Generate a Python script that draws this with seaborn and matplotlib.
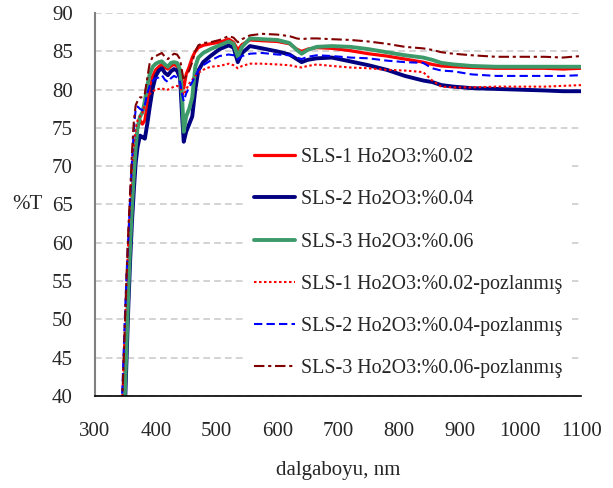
import pandas as pd
import matplotlib
matplotlib.use("Agg")
import matplotlib.pyplot as plt
import seaborn as sns

# wavelength grid (nm), shared by all six spectra
wavelength = [343, 346, 349, 352, 355, 358, 361, 364, 367, 370, 374, 378, 382, 386, 390, 395, 400,
              405, 410, 415, 420, 425, 430, 435, 440, 443, 446, 450, 455, 460, 465, 470, 478, 490,
              505, 520, 528, 535, 542, 555, 575, 600, 620, 632, 640, 650, 665, 690, 720, 750, 780,
              810, 840, 855, 870, 890, 920, 960, 1000, 1040, 1070, 1100]

sls1 = [30, 36, 42, 49, 55, 61, 66, 70, 73, 75, 76, 75.5, 76, 78, 80, 81.8, 82.6,
        83.0, 83.3, 82.9, 82.7, 83.1, 83.3, 83.1, 82.3, 81.0, 80.2, 82.0, 83.0, 84.2, 85.0, 85.5, 85.8, 86.0,
        86.2, 86.6, 86.2, 85.2, 85.9, 86.5, 86.4, 86.3, 86.0, 85.3, 85.0, 85.3, 85.5, 85.4, 85.1, 84.7, 84.4,
        84.0, 83.6, 83.3, 83.1, 83.0, 82.9, 82.8, 82.8, 82.8, 82.7, 82.8]
sls2 = [26, 32, 38, 45, 52, 58, 63, 67, 70.5, 72.5, 74, 73.8, 73.6, 75.5, 77.7, 80.2, 81.8,
        82.5, 82.8, 82.2, 81.9, 82.4, 82.7, 82.5, 81.5, 77.0, 73.2, 74.5, 75.5, 76.5, 80.0, 82.5, 83.6, 84.4,
        85.3, 85.8, 85.5, 83.6, 84.8, 85.7, 85.4, 85.0, 84.6, 84.0, 83.6, 83.9, 84.1, 84.2, 83.7, 83.2, 82.6,
        81.8, 81.2, 81.0, 80.6, 80.4, 80.2, 80.1, 80.0, 79.9, 79.8, 79.8]
sls3 = [28, 34, 40, 47, 54, 60, 65, 69, 72.5, 75, 76.5, 77, 78.5, 80.5, 82, 83, 83.4,
        83.6, 83.7, 83.3, 83.0, 83.5, 83.6, 83.5, 82.6, 79.5, 74.5, 76.5, 77.5, 79.0, 83.0, 84.2, 84.8, 85.3,
        85.8, 86.3, 86.0, 84.3, 85.6, 86.7, 86.6, 86.5, 86.1, 85.2, 84.7, 85.2, 85.6, 85.7, 85.6, 85.3, 84.9,
        84.5, 84.2, 83.9, 83.5, 83.3, 83.1, 83.0, 83.0, 83.0, 83.0, 83.0]
sls1_exp = [36, 42, 49, 55, 61, 66, 70, 73, 75, 76, 76.5, 77, 78, 78.8, 79.4, 79.8, 80.0,
            80.1, 80.2, 80.0, 80.0, 80.2, 80.4, 80.5, 80.3, 79.8, 79.3, 80.0, 80.8, 81.3, 81.8, 82.2, 82.6, 83.0,
            83.1, 83.4, 83.2, 82.8, 83.1, 83.4, 83.4, 83.3, 83.2, 83.0, 82.9, 83.1, 83.3, 83.1, 82.9, 82.8, 82.6,
            82.5, 82.3, 81.2, 80.4, 80.3, 80.3, 80.4, 80.4, 80.4, 80.5, 80.6]
sls2_exp = [37, 43, 50, 56, 61, 66, 71, 75, 77.5, 77.8, 77.5, 77.3, 78, 79.5, 80.5, 81.2, 81.5,
            81.6, 81.9, 81.3, 81.0, 81.5, 81.8, 81.6, 81.0, 79.5, 78.5, 79.5, 80.3, 81.0, 81.8, 82.5, 83.2, 83.8,
            84.4, 84.6, 84.5, 84.0, 84.4, 84.7, 84.8, 84.6, 84.5, 84.2, 84.0, 84.3, 84.5, 84.4, 84.2, 84.1, 83.8,
            83.6, 83.5, 82.8, 82.5, 82.4, 82.0, 81.8, 81.8, 81.8, 81.8, 81.9]
sls3_exp = [36, 42, 49, 56, 62, 67, 72, 76, 78, 78.5, 79, 79, 79.5, 81.5, 83.5, 84.3, 84.4,
            84.6, 84.8, 84.3, 84.0, 84.4, 84.7, 84.6, 84.0, 82.5, 81.2, 81.8, 82.5, 83.6, 85.0, 85.8, 86.1, 86.2,
            86.5, 87.0, 86.8, 86.2, 86.6, 87.1, 87.3, 87.2, 87.0, 86.7, 86.6, 86.7, 86.7, 86.6, 86.5, 86.3, 86.0,
            85.6, 85.4, 85.2, 84.9, 84.7, 84.5, 84.3, 84.3, 84.3, 84.2, 84.4]

labels = ["SLS-1 Ho2O3:%0.02", "SLS-2 Ho2O3:%0.04", "SLS-3 Ho2O3:%0.06",
          "SLS-1 Ho2O3:%0.02-pozlanmış", "SLS-2 Ho2O3:%0.04-pozlanmış",
          "SLS-3 Ho2O3:%0.06-pozlanmış"]
x_ticks = [300, 400, 500, 600, 700, 800, 900, 1000, 1100]
y_ticks = [40, 45, 50, 55, 60, 65, 70, 75, 80, 85, 90]

series = [sls1, sls2, sls3, sls1_exp, sls2_exp, sls3_exp]
colors = ["#ff0000", "#000080", "#3d9a6a", "#ff0000", "#0000ff", "#800000"]
widths = [2.3, 2.8, 2.8, 1.5, 1.5, 1.5]
styles = ["-", "-", "-", (0, (1.2, 1.2)), (0, (4, 2)), (0, (5, 1.8, 1.5, 1.8))]

sns.set_style("white")
plt.rcParams['font.family'] = ['Liberation Serif', 'DejaVu Serif']

fig = plt.figure(figsize=(6.13, 4.88), dpi=100)
ax = fig.add_axes([0.155, 0.189, 0.793, 0.784])

for vals, lab, c, w, s in zip(series, labels, colors, widths, styles):
    df = pd.DataFrame({'wl': wavelength, 'T': vals})
    sns.lineplot(x='wl', y='T', data=df, ax=ax, color=c, lw=w, linestyle=s,
                 label=lab, sort=False)

ax.set_xlim(300, 1100)
ax.set_ylim(40, 90)
ax.set_xticks(x_ticks)
ax.set_yticks(y_ticks)
ax.tick_params(axis='x', direction='in', length=8, width=1, color='black',
               labelsize=15, pad=19)
ax.tick_params(axis='y', direction='inout', length=12, width=1, color='black',
               labelsize=15, pad=10)
ax.yaxis.grid(True, linestyle=(0, (4, 2.5)), color='#cccccc', lw=1.2)
ax.xaxis.grid(False)
ax.set_axisbelow(True)

for sp in ['top', 'right']:
    ax.spines[sp].set_visible(False)
ax.spines['left'].set_color('#808080')
ax.spines['left'].set_linewidth(1.5)
ax.spines['bottom'].set_color('black')
ax.spines['bottom'].set_linewidth(1.2)

ax.set_xlabel('dalgaboyu, nm', fontsize=15, labelpad=14)
ax.set_ylabel('%T', fontsize=15, rotation=0, va='center', ha='center')
ax.yaxis.set_label_coords(-0.14, 0.5)

leg = ax.legend(loc='upper left', bbox_to_anchor=(0.398, 0.717), bbox_transform=fig.transFigure,
                frameon=True, fancybox=False, facecolor='white', edgecolor='none', framealpha=1,
                fontsize=14.4, handlelength=2.05, handletextpad=0.3,
                labelspacing=1.16, borderaxespad=0, borderpad=0.5)

fig.savefig('out.png', dpi=100)
